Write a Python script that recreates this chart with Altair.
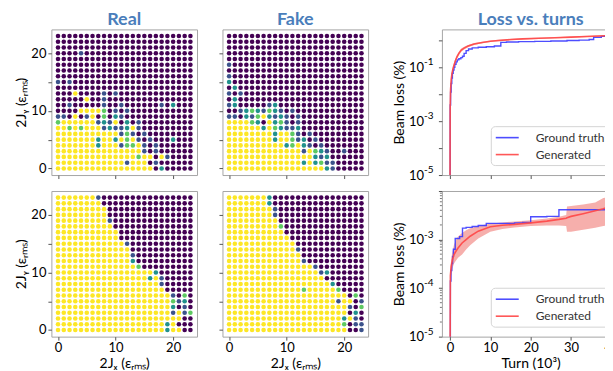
import altair as alt
import pandas as pd

FONT = "Lato"
TITLE_COLOR = "#4a7ebb"
CODES = ["0", "1", "2", "3", "4"]
VIRIDIS = ["#440154", "#3b528b", "#21918c", "#5ec962", "#fde725"]

# grid rows listed from 2J_y = 23 (top) down to 0; one character per 2J_x = 0..23
real_top = [
    "000000000000000000000000",
    "000000000000000000000000",
    "000000000000000000000000",
    "000010000000000000000000",
    "000000000000000000000000",
    "000000000000000000000000",
    "000000000000000000000000",
    "000000000000000000000000",
    "101000000000000000000000",
    "000000000000000000000000",
    "000400001010000000000000",
    "000004001000000000000000",
    "001000001001000000102000",
    "000044443010100000000000",
    "110401403021000000000000",
    "344444412140201000000000",
    "443434441211241000000000",
    "444444444441310100000000",
    "444444424424341010002000",
    "444444424441334101000000",
    "444444444444444101000000",
    "444444444444443440410000",
    "444444444444144401000000",
    "444444444444444440200000",
]
fake_top = [
    "000000000000000000000000",
    "000000000000000000000000",
    "000000000000000000000000",
    "000000000000000000000000",
    "000000000000000000000000",
    "100000000000000000000000",
    "000000000000000000000000",
    "100000000000000000000000",
    "200000000000000000000000",
    "020000000000000000000000",
    "101000000000000000000000",
    "020000000000000000000000",
    "120000012000000000000000",
    "001232132101000000000000",
    "110213421210100000000000",
    "444432042310100000000000",
    "444444243211200000000000",
    "444444442443101000000000",
    "444444442443120100000000",
    "444444444423421010000000",
    "444444444444414321001000",
    "444444444444444212000000",
    "444444444444424231100000",
    "444444444444444442100000",
]
real_bot = [
    "444444410000000000000000",
    "444444440000000000000000",
    "444444444000000000000000",
    "444444444000000000000000",
    "444444444100000000000000",
    "444444444400000000000000",
    "444444444440000000000000",
    "444444444440000000000000",
    "444444444444100000000000",
    "444444444444400000000000",
    "444444444444410000000000",
    "444444444444420000000000",
    "444444444444443000000000",
    "444444444444444442000000",
    "444444444444444424100000",
    "444444444444444444100000",
    "444444444444444444400000",
    "444444444444444444441030",
    "444444444444444444443120",
    "444444444444444444442010",
    "444444444444444444441413",
    "444444444444444444444400",
    "444444444444444444424000",
    "444444444444444444424400",
]
fake_bot = [
    "444444420000000000000000",
    "444444420000000000000000",
    "444444441000000000000000",
    "444444441000000000000000",
    "444444444000000000000000",
    "444444444300000000000000",
    "444444444400000000000000",
    "444444444440000000000000",
    "444444444444000000000000",
    "444444444444100000000000",
    "444444444444400000000000",
    "444444444444410000000000",
    "444444444444444100000000",
    "444444444444444412000000",
    "444444444444444440000000",
    "444444444444444444200000",
    "444444444444434444430000",
    "444444444444444444444030",
    "444444444444444444414401",
    "444444444444444444444103",
    "444444444444444444444020",
    "444444444444444444442410",
    "444444444444444444443011",
    "444444444444444444444001",
]

# Loss vs. turns (turn in 10^3, beam loss in %)
gt1_x = [0, 0.05, 0.15, 0.3, 0.45, 0.6, 0.8, 1.0, 1.2, 1.5, 1.8, 2.2, 2.7, 3.1, 3.5, 4.0, 4.6, 5.5, 7, 9,
         11, 12.6, 14, 17, 21, 25, 29, 32, 34.5, 35.6, 37.5, 39, 40.5]
gt1_y = [1e-6, 4e-3, 1.2e-2, 2.5e-2, 4e-2, 6e-2, 8e-2, 0.1, 0.13, 0.16, 0.19, 0.21, 0.23, 0.26, 0.33, 0.42, 0.48,
         0.53, 0.56, 0.58, 0.62, 0.85, 0.88, 0.9, 0.92, 0.95, 0.99, 1.03, 1.08, 1.3, 1.42, 1.55, 1.7]
gen1_x = [0, 0.05, 0.15, 0.3, 0.5, 0.75, 1.0, 1.3, 1.7, 2.2, 2.8, 3.5, 4.5, 6, 8, 10, 12, 15, 18, 22,
          26, 30, 34, 37, 40.5]
gen1_y = [1e-6, 3e-3, 1.5e-2, 3.5e-2, 6e-2, 9e-2, 0.12, 0.17, 0.24, 0.33, 0.44, 0.52, 0.62, 0.74, 0.84, 0.93,
          1.0, 1.08, 1.14, 1.2, 1.26, 1.33, 1.4, 1.46, 1.55]
gen1_lo = [1e-6, 2.2e-3, 1.2e-2, 2.9e-2, 5e-2, 7.6e-2, 0.1, 0.145, 0.2, 0.28, 0.38, 0.46, 0.56, 0.68, 0.78,
           0.87, 0.94, 1.02, 1.08, 1.14, 1.2, 1.26, 1.33, 1.38, 1.45]
gen1_hi = [1e-6, 4e-3, 1.9e-2, 4.3e-2, 7.2e-2, 0.11, 0.145, 0.2, 0.28, 0.38, 0.5, 0.58, 0.68, 0.8, 0.9,
           0.99, 1.06, 1.14, 1.2, 1.26, 1.32, 1.4, 1.48, 1.55, 1.65]

gt2_x = [0, 0.1, 0.25, 0.45, 0.65, 0.85, 1.3, 2.4, 3.1, 4.0, 5.5, 7, 9, 12, 16, 18, 20, 24, 27, 32, 40.5]
gt2_y = [1e-6, 1.4e-4, 2.3e-4, 3.2e-4, 4.5e-4, 6.3e-4, 1.05e-3, 1.15e-3, 1.72e-3, 1.78e-3, 1.85e-3, 1.95e-3,
         2.15e-3, 2.15e-3, 2.2e-3, 2.25e-3, 2.95e-3, 3.0e-3, 4.1e-3, 4.1e-3, 4.1e-3]
gen2_x = [0, 0.1, 0.3, 0.6, 1.0, 1.5, 2.0, 3.0, 4.0, 5.0, 7.0, 10, 13, 16, 20, 24, 27, 28.8, 29.0, 30,
          33, 36, 38, 40.5]
gen2_y = [1e-6, 1.8e-4, 2.8e-4, 3.8e-4, 4.9e-4, 5.8e-4, 6.7e-4, 8.5e-4, 1.0e-3, 1.17e-3, 1.49e-3, 1.83e-3,
          1.97e-3, 2.05e-3, 2.2e-3, 2.4e-3, 2.6e-3, 2.75e-3, 2.8e-3, 3.0e-3, 3.4e-3, 3.9e-3, 4.3e-3, 5.2e-3]
gen2_lo = [1e-6, 1.2e-4, 1.8e-4, 2.5e-4, 3.2e-4, 3.7e-4, 4.2e-4, 4.9e-4, 6.2e-4, 7.6e-4, 1.05e-3, 1.45e-3,
           1.65e-3, 1.78e-3, 1.9e-3, 1.95e-3, 1.95e-3, 1.9e-3, 1.45e-3, 1.45e-3, 1.6e-3, 1.75e-3, 1.9e-3, 2.1e-3]
gen2_hi = [1e-6, 2.5e-4, 4e-4, 5.6e-4, 7.8e-4, 9.8e-4, 1.15e-3, 1.37e-3, 1.55e-3, 1.7e-3, 1.9e-3, 2.15e-3,
           2.25e-3, 2.35e-3, 2.5e-3, 2.7e-3, 2.95e-3, 3.2e-3, 4.8e-3, 4.9e-3, 5.3e-3, 5.8e-3, 7.2e-3, 7.6e-3]

# log-axis ticks: labelled decades with their exponents, plus unlabelled ticks
top_ticks = [1e-5, 1e-4, 1e-3, 1e-2, 1e-1, 1.0]
top_labelled = [1e-5, 1e-3, 1e-1]
top_exps = ["-5", "-3", "-1"]
bot_ticks = [1e-5, 1e-4, 1e-3, 1e-2]
bot_labelled = [1e-5, 1e-4, 1e-3]
bot_exps = ["-5", "-4", "-3"]
bot_minor = [2e-5, 3e-5, 4e-5, 5e-5, 6e-5, 7e-5, 8e-5, 9e-5,
             2e-4, 3e-4, 4e-4, 5e-4, 6e-4, 7e-4, 8e-4, 9e-4,
             2e-3, 3e-3, 4e-3, 5e-3, 6e-3, 7e-3, 8e-3, 9e-3]

SERIES = ["Ground truth", "Generated"]
LINE_COLORS = ["#3a3aff", "#ff4646"]

XT = "2Jₓ (εᵣₘₛ)"
YT = "2Jᵧ (εᵣₘₛ)"
GW, GH = 146, 146
LW, LH = 178, 146


def grid_df(rows):
    recs = []
    for r, s in enumerate(rows):
        for i, ch in enumerate(s):
            recs.append({"x": i, "y": 23 - r, "c": ch})
    return pd.DataFrame(recs)


def panel_title(text):
    return alt.Title(text, fontSize=18, fontWeight="bold", color=TITLE_COLOR, font=FONT,
                     anchor="middle", offset=0)


def scatter(rows, title=None, xlab=False, ylab=False):
    xaxis = alt.Axis(values=[0, 10, 20], labels=xlab, title=XT if xlab else None, labelPadding=1,
                     titlePadding=2)
    yaxis = alt.Axis(values=[0, 5, 10, 15, 20], labels=ylab,
                     labelExpr="datum.value % 10 == 0 ? datum.label : ''",
                     title=YT if ylab else None)
    ch = alt.Chart(grid_df(rows)).mark_circle(size=21, opacity=1).encode(
        x=alt.X("x:Q", scale=alt.Scale(domain=[-1.15, 24.15], nice=False, zero=False), axis=xaxis),
        y=alt.Y("y:Q", scale=alt.Scale(domain=[-1.15, 24.15], nice=False, zero=False), axis=yaxis),
        color=alt.Color("c:N", scale=alt.Scale(domain=CODES, range=VIRIDIS), legend=None),
    )
    if title:
        return ch.properties(width=GW, height=GH, title=panel_title(title))
    return ch.properties(width=GW, height=GH)


def loss(gx, gy, ex, ey, elo, ehi, ydom, ticks, labelled, exps, minor=None, title=None, xlab=False):
    gt = pd.DataFrame({"x": gx, "y": gy, "series": SERIES[0]})
    gen = pd.DataFrame({"x": ex, "y": ey, "series": SERIES[1]})
    band = pd.DataFrame({"x": ex, "lo": elo, "hi": ehi})
    expdf = pd.DataFrame({"v": labelled, "e": exps})
    xs = alt.Scale(domain=[-2, 42], nice=False, zero=False)
    ys = alt.Scale(type="log", domain=ydom, nice=False)
    cond = " || ".join("abs(datum.value - %g) < %g" % (v, v * 0.01) for v in labelled)
    xaxis = alt.Axis(values=[0, 10, 20, 30, 40], labels=xlab, title="Turn (10³)" if xlab else None,
                     labelPadding=1, titlePadding=2)
    yaxis = alt.Axis(values=ticks, labelExpr="(%s) ? '10' : ''" % cond, labelPadding=15,
                     title="Beam loss (%)")
    color = alt.Color("series:N", scale=alt.Scale(domain=SERIES, range=LINE_COLORS),
                      legend=alt.Legend(title=None, orient="bottom-right"))
    layers = [
        alt.Chart(band).mark_area(color="#f07a74", opacity=0.6, clip=True).encode(
            x=alt.X("x:Q", scale=xs, axis=xaxis), y=alt.Y("lo:Q", scale=ys, axis=yaxis), y2="hi:Q"),
        alt.Chart(gt).mark_line(strokeWidth=1.4, clip=True, interpolate="step-after", opacity=0.9).encode(
            x=alt.X("x:Q", scale=xs, axis=xaxis), y=alt.Y("y:Q", scale=ys, axis=yaxis), color=color),
        alt.Chart(gen).mark_line(strokeWidth=1.6, clip=True, opacity=0.9).encode(
            x=alt.X("x:Q", scale=xs, axis=xaxis), y=alt.Y("y:Q", scale=ys, axis=yaxis), color=color),
        alt.Chart(expdf).mark_text(align="left", baseline="middle", dy=-5, fontSize=10, font=FONT,
                                   color="#000000").encode(
            y=alt.Y("v:Q", scale=ys, axis=yaxis), x=alt.value(-18), text="e:N"),
    ]
    if minor:
        layers.append(
            alt.Chart(pd.DataFrame({"v": minor})).mark_rule(color="#555555", strokeWidth=0.8).encode(
                y=alt.Y("v:Q", scale=ys, axis=yaxis), x=alt.value(0), x2=alt.value(-2)))
    ch = alt.layer(*layers)
    if title:
        return ch.properties(width=LW, height=LH, title=panel_title(title))
    return ch.properties(width=LW, height=LH)


rt = scatter(real_top, "Real", ylab=True)
ft = scatter(fake_top, "Fake")
rb = scatter(real_bot, xlab=True, ylab=True)
fb = scatter(fake_bot, xlab=True)
lt = loss(gt1_x, gt1_y, gen1_x, gen1_y, gen1_lo, gen1_hi, [1e-5, 2.57], top_ticks, top_labelled, top_exps,
          title="Loss vs. turns")
lb = loss(gt2_x, gt2_y, gen2_x, gen2_y, gen2_lo, gen2_hi, [1e-5, 1e-2], bot_ticks, bot_labelled, bot_exps,
          minor=bot_minor, xlab=True)

IND = dict(color="independent", x="independent", y="independent")


def row(a, b, c):
    pair = alt.hconcat(a, b, spacing=19.5).resolve_scale(**IND)
    return alt.hconcat(pair, c, spacing=22.5).resolve_scale(**IND)


# the figure is cropped at its right edge, as in the original picture
chart = alt.vconcat(row(rt, ft, lt), row(rb, fb, lb), spacing=7).resolve_scale(**IND).properties(
    padding={"left": 5.5, "top": 2, "right": -15, "bottom": 0}
).configure_view(
    stroke="#a6a6a6", strokeWidth=1
).configure_axis(
    grid=False, domain=False, tickColor="#555555", tickSize=3.5, labelFont=FONT, labelFontSize=13,
    labelColor="#000000", titleFont=FONT, titleFontSize=14, titleFontWeight="normal", titleColor="#000000",
    labelPadding=2, titlePadding=2
).configure_legend(
    fillColor="white", strokeColor="#d4d4d4", cornerRadius=4, padding=4, labelFont=FONT, labelFontSize=12,
    labelColor="#333333", symbolType="M-1.77,0L1.77,0", symbolStrokeWidth=1.6, symbolSize=169,
    symbolOffset=5, labelOffset=21, rowPadding=3, offset=10
)

chart.save("out.html", embed_options={"renderer": "svg", "actions": False})
